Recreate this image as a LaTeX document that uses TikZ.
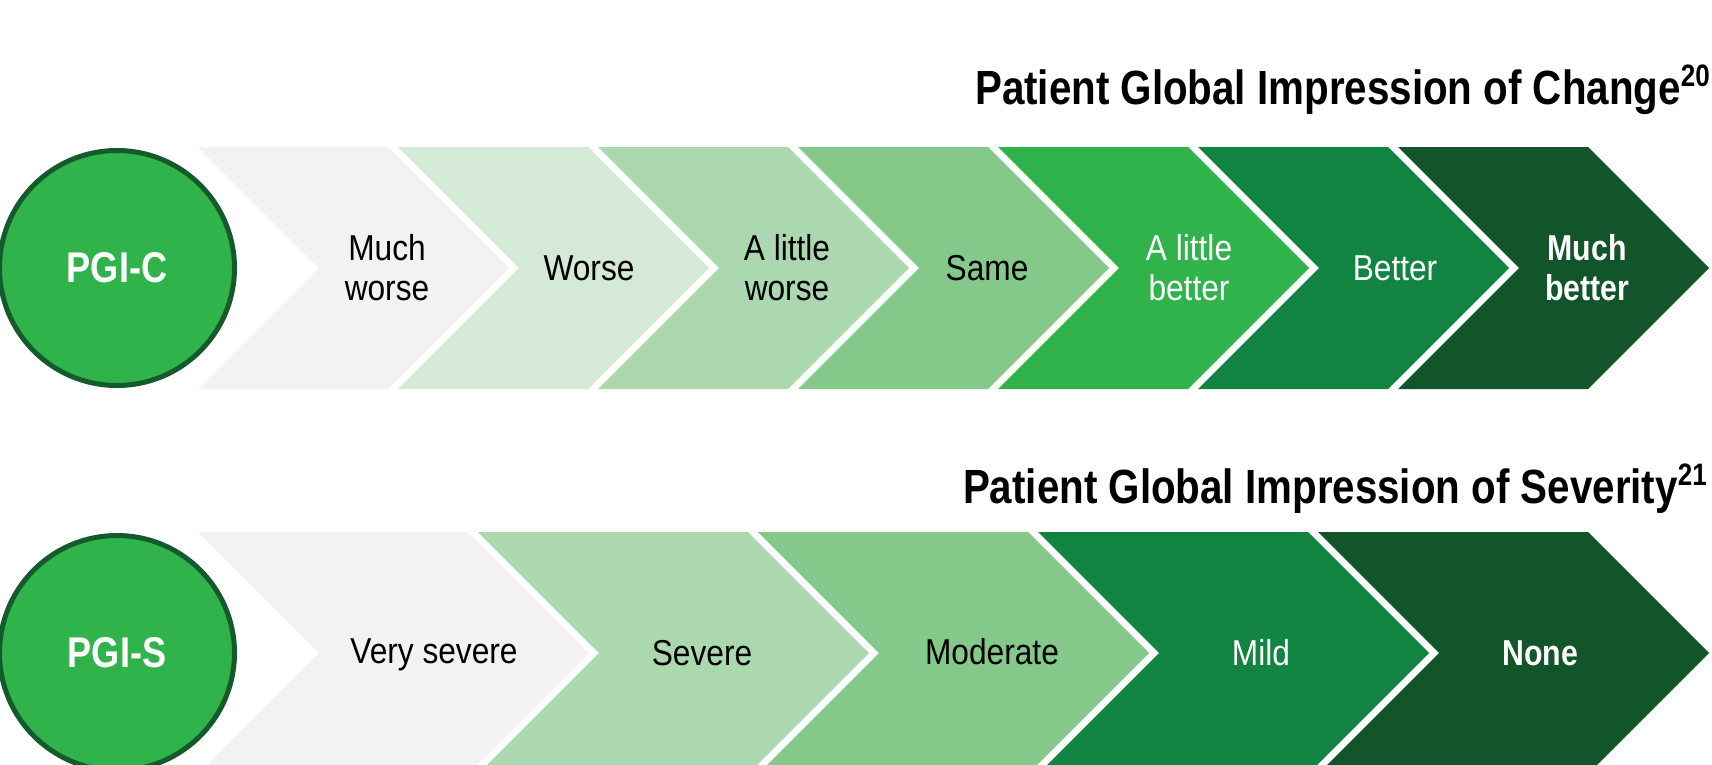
\documentclass[tikz,border=0pt]{standalone}
\usepackage{fontspec}
\setmainfont{Liberation Sans}
\newfontfamily\condfont[FakeStretch=0.88]{Liberation Sans}
\newfontfamily\condboldfont[FakeStretch=0.84]{Liberation Sans}
\definecolor{c1}{HTML}{F2F2F2}
\definecolor{c2}{HTML}{D4EAD7}
\definecolor{c3}{HTML}{ACD8B0}
\definecolor{c4}{HTML}{84C88A}
\definecolor{c5}{HTML}{2FB34A}
\definecolor{c6}{HTML}{118442}
\definecolor{c7}{HTML}{13552A}
\definecolor{cborder}{HTML}{145A2C}
\begin{document}
\begin{tikzpicture}[x=1pt,y=-1pt,
  lab/.style={align=center, inner sep=0pt, font=\condfont\fontsize{36}{40}\selectfont},
  labw/.style={lab, text=white},
  labb/.style={labw, font=\condboldfont\bfseries\fontsize{36}{40}\selectfont},
  ring/.style={circle, fill=c5, draw=cborder, line width=5pt, minimum size=235pt, inner sep=0pt, text=white, font=\condboldfont\bfseries\fontsize{43}{43}\selectfont},
  titletext/.style={anchor=base east, inner sep=0pt, font=\condboldfont\bfseries\fontsize{48}{50}\selectfont}
]
\useasboundingbox (0,0) rectangle (1712,764);
\clip (0,0) rectangle (1712,764);
\fill[white] (0,0) rectangle (1712,764);

% top row chevrons
\foreach \i/\c in {0/c1,1/c2,2/c3,3/c4,4/c5,5/c6,6/c7}
  \fill[\c] (198+\i*200,147) -- ++(190,0) -- ++(121,121) -- ++(-121,121) -- ++(-190,0) -- ++(121,-121) -- cycle;
% bottom row chevrons
\foreach \i/\c in {0/c1,1/c3,2/c4,3/c6,4/c7}
  \fill[\c] (198+\i*280,532) -- ++(270,0) -- ++(121,121) -- ++(-121,121) -- ++(-270,0) -- ++(121,-121) -- cycle;

% circles
\node[ring] (pgic) at (117,268) {PGI-C};
\node[ring] (pgis) at (117,653) {PGI-S};

% titles
\node[titletext] (t1) at (1681,104) {Patient Global Impression of Change\rlap{\raisebox{17.5pt}{\fontsize{31}{31}\selectfont 20}}};
\node[titletext] (t2) at (1678,503) {Patient Global Impression of Severity\rlap{\raisebox{17.5pt}{\fontsize{31}{31}\selectfont 21}}};

% top labels
\node[lab]  (a1) at (387,268)  {Much\\worse};
\node[lab]  (a2) at (589,268)  {Worse};
\node[lab]  (a3) at (787,268)  {A little\\worse};
\node[lab]  (a4) at (987,268)  {Same};
\node[labw] (a5) at (1189,268) {A little\\better};
\node[labw] (a6) at (1395,268) {Better};
\node[labb] (a7) at (1587,268) {Much\\better};

% bottom labels
\node[lab]  (b1) at (434,655)  {Very severe};
\node[lab]  (b2) at (702,653)  {Severe};
\node[lab]  (b3) at (992,652)  {Moderate};
\node[labw] (b4) at (1261,653) {Mild};
\node[labb] (b5) at (1540,653) {None};
\end{tikzpicture}
\end{document}
